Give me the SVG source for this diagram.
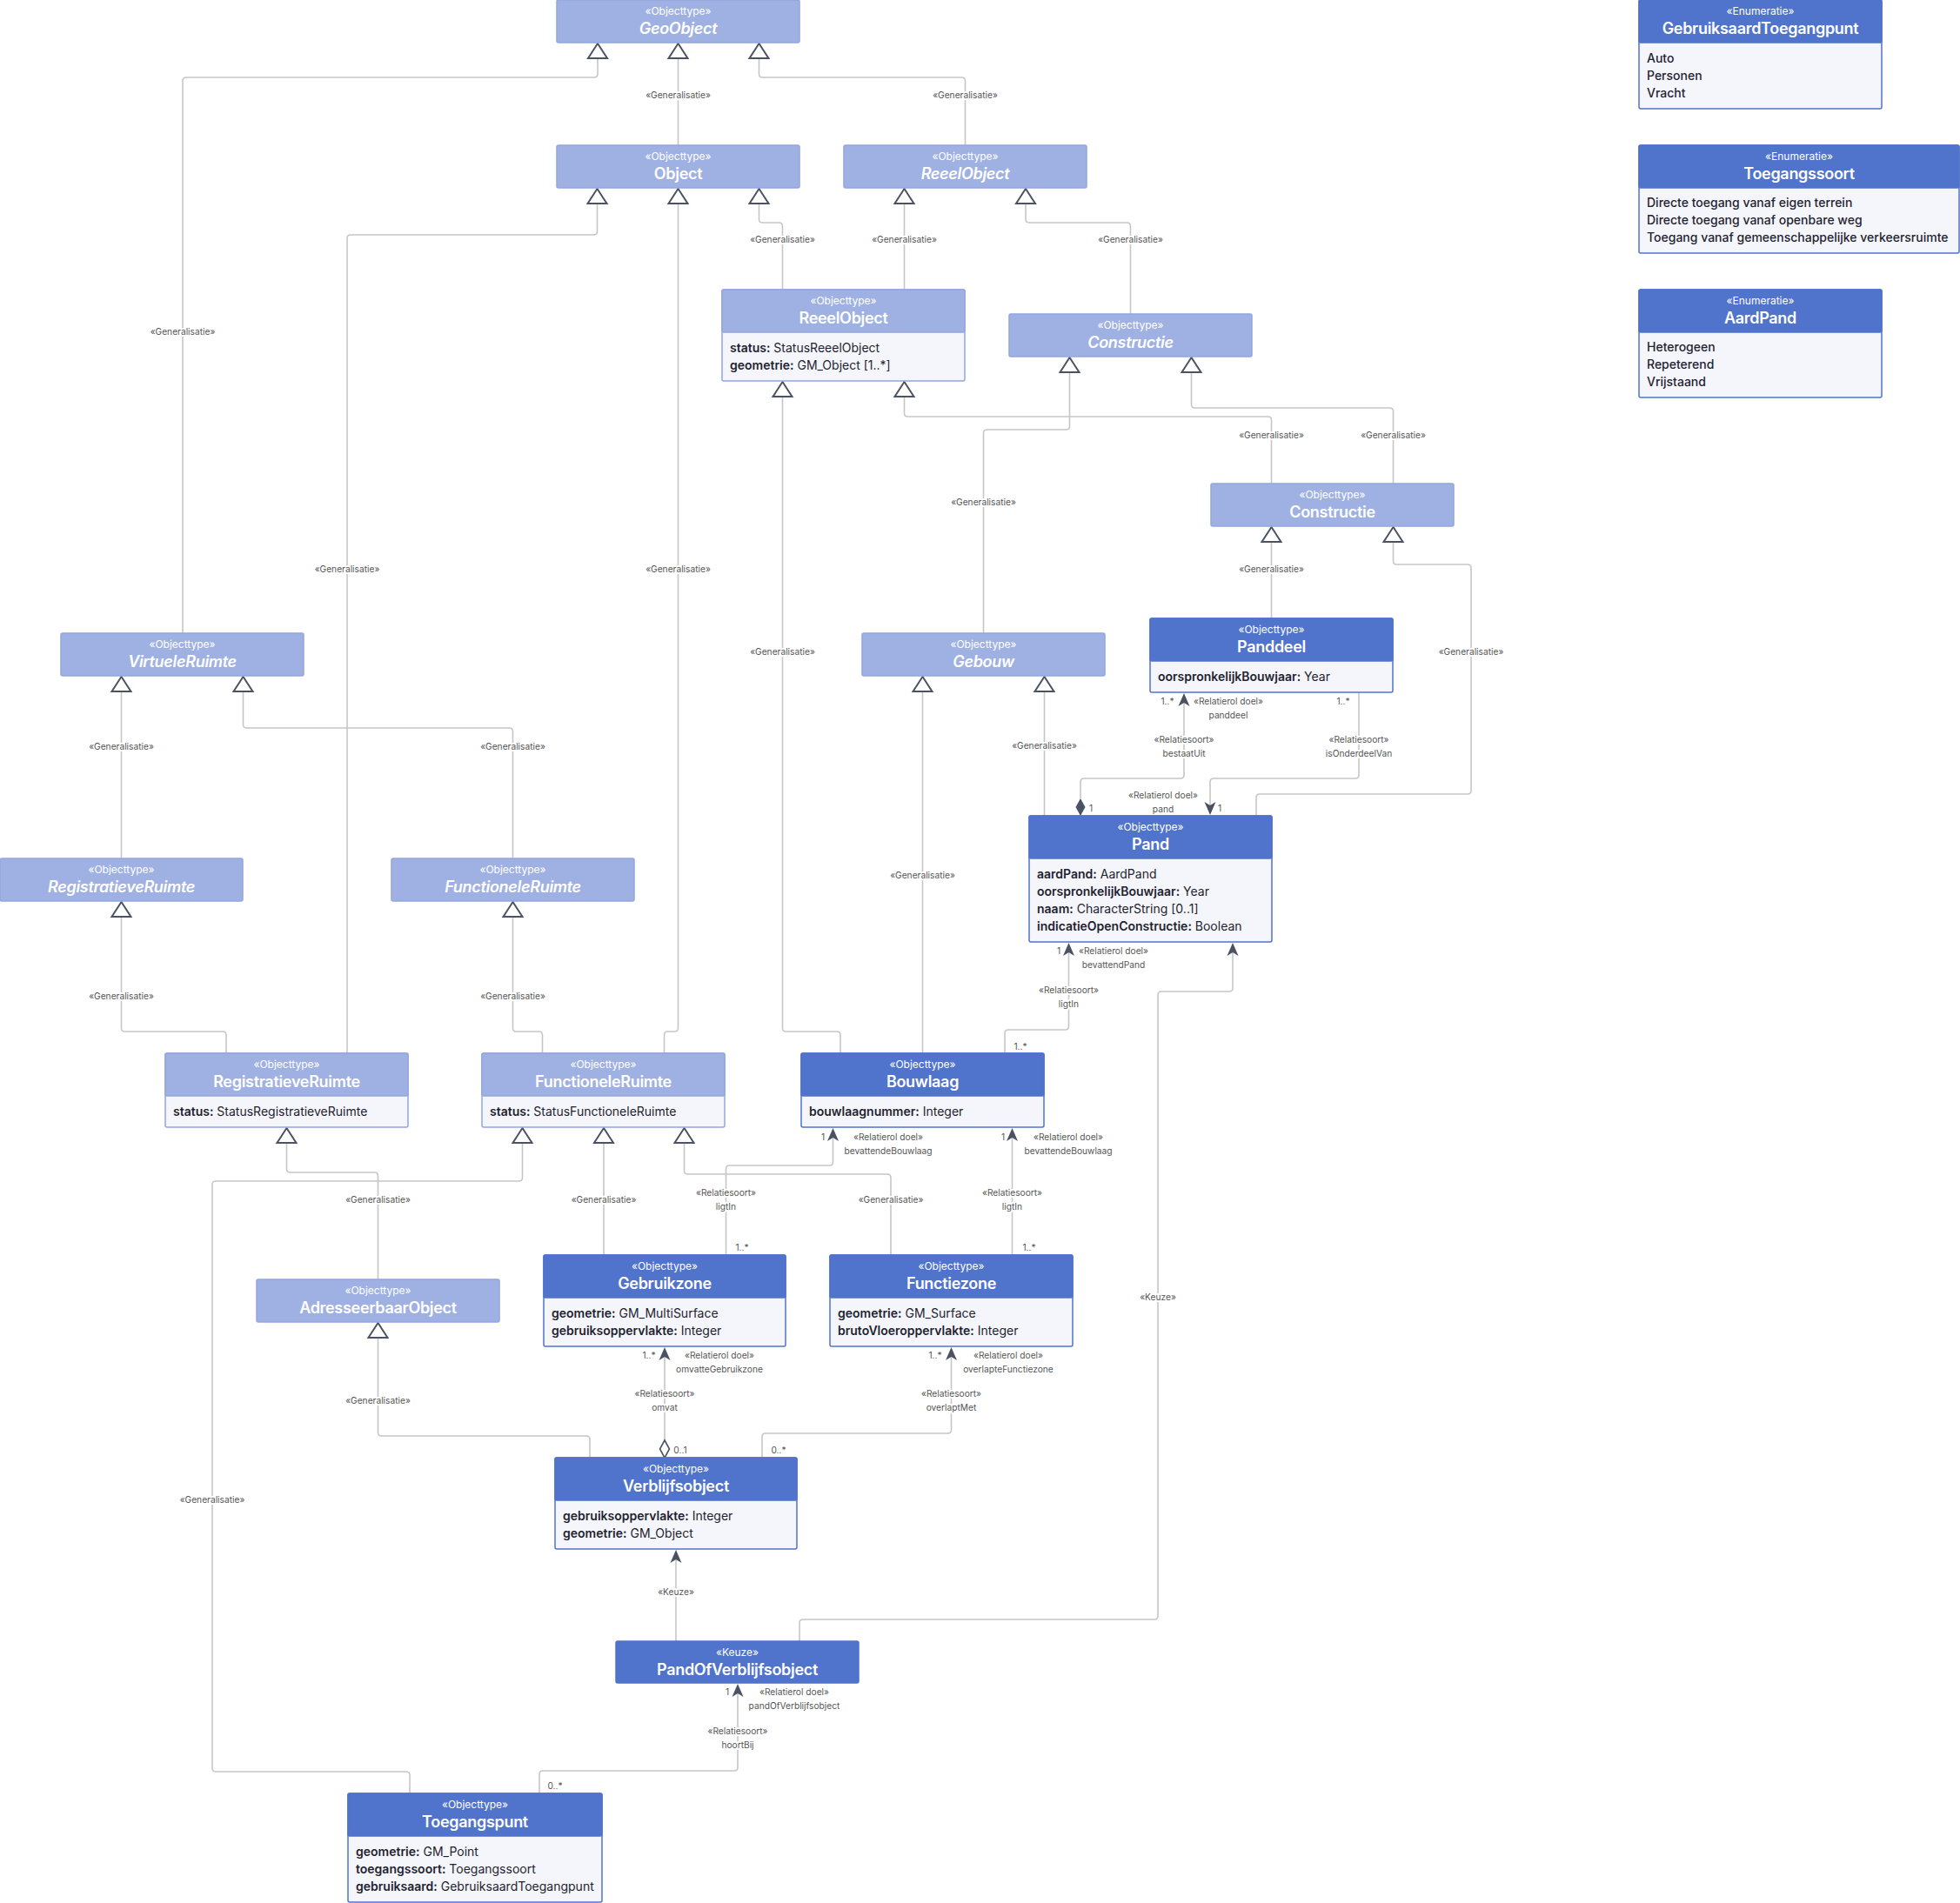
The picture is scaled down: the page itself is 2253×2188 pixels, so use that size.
<svg xmlns="http://www.w3.org/2000/svg" width="2253" height="2188" viewBox="0 0 2253 2188">
<style>
.bg{fill:#fff}
.hl{fill:#9fb1e3;stroke:#93a6de;stroke-width:1.5}
.hd{fill:#5073cc;stroke:#5073cc;stroke-width:1.5}
.bl{fill:#f5f6fb;stroke:#93a6de;stroke-width:1.5}
.bd{fill:#f5f6fb;stroke:#5073cc;stroke-width:1.5}
.st{font-family:Inter,"Liberation Sans",sans-serif;font-size:12px;fill:#fff;text-anchor:middle}
.tt{font-family:Inter,"Liberation Sans",sans-serif;font-size:18px;font-weight:600;letter-spacing:-0.3px;fill:#fff;text-anchor:middle}
.it{font-style:italic}
.at{font-family:Inter,"Liberation Sans",sans-serif;font-size:14px;fill:#1f2330}
.at .n{font-weight:600}
.ev{font-family:Inter,"Liberation Sans",sans-serif;font-size:14px;font-weight:500;fill:#1f2330}
.conn{fill:none;stroke:#c6c6c6;stroke-width:1.6}
.tri{fill:#fff;stroke:#4b5262;stroke-width:2}
.arr{fill:#4b5262}
.dmo{fill:#fff;stroke:#4b5262;stroke-width:1.6}
.lb{font-family:Inter,"Liberation Sans",sans-serif;font-size:10.2px;fill:#555;text-anchor:middle;stroke:#fff;stroke-width:4;paint-order:stroke;stroke-linejoin:round}
.ml{font-family:Inter,"Liberation Sans",sans-serif;font-size:10.2px;fill:#555;text-anchor:middle}
</style>
<defs>
<path id="tri" d="M0,0 L11,17 L-11,17 Z"/>
<path id="arU" d="M0,0 L6.5,15 L0,11 L-6.5,15 Z"/>
<path id="arD" d="M0,0 L6.5,-15 L0,-11 L-6.5,-15 Z"/>
<path id="dia" d="M0,0 L5.5,10 L0,20 L-5.5,10 Z"/>
</defs>
<rect class="bg" x="0" y="0" width="2253" height="2188"/>

<g id="connectors">
<path class="conn" d="M210,728 L210,93 Q210,89 214,89 L683,89 Q687,89 687,85 L687,67"/>
<path class="conn" d="M779.5,167 L779.5,67"/>
<path class="conn" d="M1109.5,167 L1109.5,93 Q1109.5,89 1105.5,89 L876.5,89 Q872.5,89 872.5,85 L872.5,67"/>
<path class="conn" d="M399,1211 L399,274 Q399,270 403,270 L682.5,270 Q686.5,270 686.5,266 L686.5,234"/>
<path class="conn" d="M763.5,1211 L763.5,1190 Q763.5,1186 767.5,1186 L775.5,1186 Q779.5,1186 779.5,1182 L779.5,234"/>
<path class="conn" d="M899.5,333 L899.5,260 Q899.5,256 895.5,256 L876.5,256 Q872.5,256 872.5,252 L872.5,234"/>
<path class="conn" d="M1039.5,333 L1039.5,234"/>
<path class="conn" d="M1299.5,361 L1299.5,260 Q1299.5,256 1295.5,256 L1183,256 Q1179,256 1179,252 L1179,234"/>
<path class="conn" d="M966,1211 L966,1190 Q966,1186 962,1186 L903.5,1186 Q899.5,1186 899.5,1182 L899.5,456"/>
<path class="conn" d="M1461.5,556 L1461.5,483 Q1461.5,479 1457.5,479 L1043.5,479 Q1039.5,479 1039.5,475 L1039.5,456"/>
<path class="conn" d="M1130.5,728 L1130.5,498 Q1130.5,494 1134.5,494 L1225.5,494 Q1229.5,494 1229.5,490 L1229.5,428"/>
<path class="conn" d="M1601.5,556 L1601.5,473 Q1601.5,469 1597.5,469 L1373.5,469 Q1369.5,469 1369.5,465 L1369.5,428"/>
<path class="conn" d="M1461.5,711 L1461.5,623"/>
<path class="conn" d="M1444,938 L1444,917 Q1444,913 1448,913 L1687,913 Q1691,913 1691,909 L1691,653 Q1691,649 1687,649 L1605.5,649 Q1601.5,649 1601.5,645 L1601.5,623"/>
<path class="conn" d="M1200.5,938 L1200.5,795"/>
<path class="conn" d="M1060.5,1211 L1060.5,795"/>
<path class="conn" d="M139.5,987 L139.5,795"/>
<path class="conn" d="M589.5,987 L589.5,841 Q589.5,837 585.5,837 L283.5,837 Q279.5,837 279.5,833 L279.5,795"/>
<path class="conn" d="M260,1211 L260,1190 Q260,1186 256,1186 L143.5,1186 Q139.5,1186 139.5,1182 L139.5,1054"/>
<path class="conn" d="M623.5,1211 L623.5,1190 Q623.5,1186 619.5,1186 L593.5,1186 Q589.5,1186 589.5,1182 L589.5,1054"/>
<path class="conn" d="M434.5,1471 L434.5,1352 Q434.5,1348 430.5,1348 L333.5,1348 Q329.5,1348 329.5,1344 L329.5,1314"/>
<path class="conn" d="M471,2062 L471,2041 Q471,2037 467,2037 L248,2037 Q244,2037 244,2033 L244,1362 Q244,1358 248,1358 L596.5,1358 Q600.5,1358 600.5,1354 L600.5,1314"/>
<path class="conn" d="M694,1443 L694,1314"/>
<path class="conn" d="M1024,1443 L1024,1354 Q1024,1350 1020,1350 L790.5,1350 Q786.5,1350 786.5,1346 L786.5,1314"/>
<path class="conn" d="M678,1676 L678,1655 Q678,1651 674,1651 L438.5,1651 Q434.5,1651 434.5,1647 L434.5,1538"/>
<path class="conn" d="M1242,918 L1242,899 Q1242,895 1246,895 L1357,895 Q1361,895 1361,891 L1361,808"/>
<path class="conn" d="M1562,796 L1562,891 Q1562,895 1558,895 L1395,895 Q1391,895 1391,899 L1391,926"/>
<path class="conn" d="M1155,1211 L1155,1188 Q1155,1184 1159,1184 L1224.5,1184 Q1228.5,1184 1228.5,1180 L1228.5,1095"/>
<path class="conn" d="M834.5,1443 L834.5,1344 Q834.5,1340 838.5,1340 L953.5,1340 Q957.5,1340 957.5,1336 L957.5,1308"/>
<path class="conn" d="M1163.5,1443 L1163.5,1308"/>
<path class="conn" d="M764,1656 L764,1560"/>
<path class="conn" d="M876,1676 L876,1652 Q876,1648 880,1648 L1089.5,1648 Q1093.5,1648 1093.5,1644 L1093.5,1560"/>
<path class="conn" d="M777,1887 L777,1793"/>
<path class="conn" d="M919,1887 L919,1866 Q919,1862 923,1862 L1327,1862 Q1331,1862 1331,1858 L1331,1144 Q1331,1140 1335,1140 L1413,1140 Q1417,1140 1417,1136 L1417,1095"/>
<path class="conn" d="M620,2062 L620,2040 Q620,2036 624,2036 L844,2036 Q848,2036 848,2032 L848,1947"/>

<use href="#tri" class="tri" x="687" y="50"/>
<use href="#tri" class="tri" x="779.5" y="50"/>
<use href="#tri" class="tri" x="872.5" y="50"/>
<use href="#tri" class="tri" x="686.5" y="217"/>
<use href="#tri" class="tri" x="779.5" y="217"/>
<use href="#tri" class="tri" x="872.5" y="217"/>
<use href="#tri" class="tri" x="1039.5" y="217"/>
<use href="#tri" class="tri" x="1179" y="217"/>
<use href="#tri" class="tri" x="899.5" y="439"/>
<use href="#tri" class="tri" x="1039.5" y="439"/>
<use href="#tri" class="tri" x="1229.5" y="411"/>
<use href="#tri" class="tri" x="1369.5" y="411"/>
<use href="#tri" class="tri" x="1461.5" y="606"/>
<use href="#tri" class="tri" x="1601.5" y="606"/>
<use href="#tri" class="tri" x="1060.5" y="778"/>
<use href="#tri" class="tri" x="1200.5" y="778"/>
<use href="#tri" class="tri" x="139.5" y="778"/>
<use href="#tri" class="tri" x="279.5" y="778"/>
<use href="#tri" class="tri" x="139.5" y="1037"/>
<use href="#tri" class="tri" x="589.5" y="1037"/>
<use href="#tri" class="tri" x="329.5" y="1297"/>
<use href="#tri" class="tri" x="600.5" y="1297"/>
<use href="#tri" class="tri" x="694" y="1297"/>
<use href="#tri" class="tri" x="786.5" y="1297"/>
<use href="#tri" class="tri" x="434.5" y="1521"/>

<use href="#arU" class="arr" x="1361" y="797"/>
<use href="#arD" class="arr" x="1391" y="937"/>
<use href="#arU" class="arr" x="1228.5" y="1084"/>
<use href="#arU" class="arr" x="1417" y="1084"/>
<use href="#arU" class="arr" x="957.5" y="1297"/>
<use href="#arU" class="arr" x="1163.5" y="1297"/>
<use href="#arU" class="arr" x="764" y="1549"/>
<use href="#arU" class="arr" x="1093.5" y="1549"/>
<use href="#arU" class="arr" x="777" y="1782"/>
<use href="#arU" class="arr" x="848" y="1936"/>
<use href="#dia" class="arr" x="1242" y="918"/>
<use href="#dia" class="dmo" x="764" y="1656"/>

<text class="lb" x="210" y="385">«Generalisatie»</text>
<text class="lb" x="779.5" y="113">«Generalisatie»</text>
<text class="lb" x="1109.5" y="113">«Generalisatie»</text>
<text class="lb" x="399" y="658">«Generalisatie»</text>
<text class="lb" x="779.5" y="658">«Generalisatie»</text>
<text class="lb" x="899.5" y="279">«Generalisatie»</text>
<text class="lb" x="1039.5" y="279">«Generalisatie»</text>
<text class="lb" x="1299.5" y="279">«Generalisatie»</text>
<text class="lb" x="899.5" y="753">«Generalisatie»</text>
<text class="lb" x="1461.5" y="504">«Generalisatie»</text>
<text class="lb" x="1130.5" y="581">«Generalisatie»</text>
<text class="lb" x="1601.5" y="504">«Generalisatie»</text>
<text class="lb" x="1461.5" y="658">«Generalisatie»</text>
<text class="lb" x="1691" y="753">«Generalisatie»</text>
<text class="lb" x="1200.5" y="861">«Generalisatie»</text>
<text class="lb" x="1060.5" y="1010">«Generalisatie»</text>
<text class="lb" x="139.5" y="862">«Generalisatie»</text>
<text class="lb" x="589.5" y="862">«Generalisatie»</text>
<text class="lb" x="139.5" y="1149">«Generalisatie»</text>
<text class="lb" x="589.5" y="1149">«Generalisatie»</text>
<text class="lb" x="434.5" y="1383">«Generalisatie»</text>
<text class="lb" x="244" y="1728">«Generalisatie»</text>
<text class="lb" x="694" y="1383">«Generalisatie»</text>
<text class="lb" x="1024" y="1383">«Generalisatie»</text>
<text class="lb" x="434.5" y="1614">«Generalisatie»</text>

<text class="ml" x="1342" y="810">1..*</text>
<text class="lb" x="1412" y="810">«Relatierol doel»</text>
<text class="lb" x="1412" y="826">panddeel</text>
<text class="lb" x="1361" y="854">«Relatiesoort»</text>
<text class="lb" x="1361" y="870">bestaatUit</text>
<text class="ml" x="1254" y="933">1</text>
<text class="ml" x="1544" y="810">1..*</text>
<text class="lb" x="1562" y="854">«Relatiesoort»</text>
<text class="lb" x="1562" y="870">isOnderdeelVan</text>
<text class="lb" x="1337" y="918">«Relatierol doel»</text>
<text class="lb" x="1337" y="934">pand</text>
<text class="ml" x="1402" y="933">1</text>

<text class="ml" x="1217" y="1097">1</text>
<text class="lb" x="1280" y="1097">«Relatierol doel»</text>
<text class="lb" x="1280" y="1113">bevattendPand</text>
<text class="lb" x="1228.5" y="1142">«Relatiesoort»</text>
<text class="lb" x="1228.5" y="1158">ligtIn</text>
<text class="ml" x="1173" y="1207">1..*</text>

<text class="ml" x="946" y="1311">1</text>
<text class="lb" x="1021" y="1311">«Relatierol doel»</text>
<text class="lb" x="1021" y="1327">bevattendeBouwlaag</text>
<text class="lb" x="834.5" y="1375">«Relatiesoort»</text>
<text class="lb" x="834.5" y="1391">ligtIn</text>
<text class="ml" x="853" y="1438">1..*</text>

<text class="ml" x="1153" y="1311">1</text>
<text class="lb" x="1228" y="1311">«Relatierol doel»</text>
<text class="lb" x="1228" y="1327">bevattendeBouwlaag</text>
<text class="lb" x="1163.5" y="1375">«Relatiesoort»</text>
<text class="lb" x="1163.5" y="1391">ligtIn</text>
<text class="ml" x="1183" y="1438">1..*</text>

<text class="ml" x="746" y="1562">1..*</text>
<text class="lb" x="827" y="1562">«Relatierol doel»</text>
<text class="lb" x="827" y="1578">omvatteGebruikzone</text>
<text class="lb" x="764" y="1606">«Relatiesoort»</text>
<text class="lb" x="764" y="1622">omvat</text>
<text class="ml" x="782" y="1671">0..1</text>

<text class="ml" x="1075" y="1562">1..*</text>
<text class="lb" x="1159" y="1562">«Relatierol doel»</text>
<text class="lb" x="1159" y="1578">overlapteFunctiezone</text>
<text class="lb" x="1093.5" y="1606">«Relatiesoort»</text>
<text class="lb" x="1093.5" y="1622">overlaptMet</text>
<text class="ml" x="895" y="1671">0..*</text>

<text class="lb" x="777" y="1834">«Keuze»</text>
<text class="lb" x="1331" y="1495">«Keuze»</text>

<text class="ml" x="836" y="1949">1</text>
<text class="lb" x="913" y="1949">«Relatierol doel»</text>
<text class="lb" x="913" y="1965">pandOfVerblijfsobject</text>
<text class="lb" x="848" y="1994">«Relatiesoort»</text>
<text class="lb" x="848" y="2010">hoortBij</text>
<text class="ml" x="638" y="2057">0..*</text>
</g>

<g id="GeoObject">
<rect class="hl" x="640" y="0" width="279" height="49" rx="2"/>
<text class="st" x="779.5" y="17">«Objecttype»</text>
<text class="tt it" x="779.5" y="39">GeoObject</text>
</g>
<g id="Object">
<rect class="hl" x="640" y="167" width="279" height="49" rx="2"/>
<text class="st" x="779.5" y="184">«Objecttype»</text>
<text class="tt" x="779.5" y="206">Object</text>
</g>
<g id="ReeelObjectAbstract">
<rect class="hl" x="970" y="167" width="279" height="49" rx="2"/>
<text class="st" x="1109.5" y="184">«Objecttype»</text>
<text class="tt it" x="1109.5" y="206">ReeelObject</text>
</g>
<g id="ReeelObject">
<rect class="bl" x="830" y="333" width="279" height="105" rx="2"/>
<rect class="hl" x="830" y="333" width="279" height="49" rx="2"/>
<text class="st" x="969.5" y="350">«Objecttype»</text>
<text class="tt" x="969.5" y="372">ReeelObject</text>
<text class="at" x="839" y="405"><tspan class="n">status:</tspan> StatusReeelObject</text>
<text class="at" x="839" y="425"><tspan class="n">geometrie:</tspan> GM_Object [1..*]</text>
</g>
<g id="ConstructieAbstract">
<rect class="hl" x="1160" y="361" width="279" height="49" rx="2"/>
<text class="st" x="1299.5" y="378">«Objecttype»</text>
<text class="tt it" x="1299.5" y="400">Constructie</text>
</g>
<g id="Constructie">
<rect class="hl" x="1392" y="556" width="279" height="49" rx="2"/>
<text class="st" x="1531.5" y="573">«Objecttype»</text>
<text class="tt" x="1531.5" y="595">Constructie</text>
</g>
<g id="Panddeel">
<rect class="bd" x="1322" y="711" width="279" height="85" rx="2"/>
<rect class="hd" x="1322" y="711" width="279" height="49" rx="2"/>
<text class="st" x="1461.5" y="728">«Objecttype»</text>
<text class="tt" x="1461.5" y="750">Panddeel</text>
<text class="at" x="1331" y="783"><tspan class="n">oorspronkelijkBouwjaar:</tspan> Year</text>
</g>
<g id="Gebouw">
<rect class="hl" x="991" y="728" width="279" height="49" rx="2"/>
<text class="st" x="1130.5" y="745">«Objecttype»</text>
<text class="tt it" x="1130.5" y="767">Gebouw</text>
</g>
<g id="VirtueleRuimte">
<rect class="hl" x="70" y="728" width="279" height="49" rx="2"/>
<text class="st" x="209.5" y="745">«Objecttype»</text>
<text class="tt it" x="209.5" y="767">VirtueleRuimte</text>
</g>
<g id="RegistratieveRuimteAbstract">
<rect class="hl" x="0" y="987" width="279" height="49" rx="2"/>
<text class="st" x="139.5" y="1004">«Objecttype»</text>
<text class="tt it" x="139.5" y="1026">RegistratieveRuimte</text>
</g>
<g id="FunctioneleRuimteAbstract">
<rect class="hl" x="450" y="987" width="279" height="49" rx="2"/>
<text class="st" x="589.5" y="1004">«Objecttype»</text>
<text class="tt it" x="589.5" y="1026">FunctioneleRuimte</text>
</g>
<g id="Pand">
<rect class="bd" x="1183" y="938" width="279" height="145" rx="2"/>
<rect class="hd" x="1183" y="938" width="279" height="49" rx="2"/>
<text class="st" x="1322.5" y="955">«Objecttype»</text>
<text class="tt" x="1322.5" y="977">Pand</text>
<text class="at" x="1192" y="1010"><tspan class="n">aardPand:</tspan> AardPand</text>
<text class="at" x="1192" y="1030"><tspan class="n">oorspronkelijkBouwjaar:</tspan> Year</text>
<text class="at" x="1192" y="1050"><tspan class="n">naam:</tspan> CharacterString [0..1]</text>
<text class="at" x="1192" y="1070"><tspan class="n">indicatieOpenConstructie:</tspan> Boolean</text>
</g>
<g id="RegistratieveRuimte">
<rect class="bl" x="190" y="1211" width="279" height="85" rx="2"/>
<rect class="hl" x="190" y="1211" width="279" height="49" rx="2"/>
<text class="st" x="329.5" y="1228">«Objecttype»</text>
<text class="tt" x="329.5" y="1250">RegistratieveRuimte</text>
<text class="at" x="199" y="1283"><tspan class="n">status:</tspan> StatusRegistratieveRuimte</text>
</g>
<g id="FunctioneleRuimte">
<rect class="bl" x="554" y="1211" width="279" height="85" rx="2"/>
<rect class="hl" x="554" y="1211" width="279" height="49" rx="2"/>
<text class="st" x="693.5" y="1228">«Objecttype»</text>
<text class="tt" x="693.5" y="1250">FunctioneleRuimte</text>
<text class="at" x="563" y="1283"><tspan class="n">status:</tspan> StatusFunctioneleRuimte</text>
</g>
<g id="Bouwlaag">
<rect class="bd" x="921" y="1211" width="279" height="85" rx="2"/>
<rect class="hd" x="921" y="1211" width="279" height="49" rx="2"/>
<text class="st" x="1060.5" y="1228">«Objecttype»</text>
<text class="tt" x="1060.5" y="1250">Bouwlaag</text>
<text class="at" x="930" y="1283"><tspan class="n">bouwlaagnummer:</tspan> Integer</text>
</g>
<g id="Gebruikzone">
<rect class="bd" x="625" y="1443" width="278" height="105" rx="2"/>
<rect class="hd" x="625" y="1443" width="278" height="49" rx="2"/>
<text class="st" x="764" y="1460">«Objecttype»</text>
<text class="tt" x="764" y="1482">Gebruikzone</text>
<text class="at" x="634" y="1515"><tspan class="n">geometrie:</tspan> GM_MultiSurface</text>
<text class="at" x="634" y="1535"><tspan class="n">gebruiksoppervlakte:</tspan> Integer</text>
</g>
<g id="Functiezone">
<rect class="bd" x="954" y="1443" width="279" height="105" rx="2"/>
<rect class="hd" x="954" y="1443" width="279" height="49" rx="2"/>
<text class="st" x="1093.5" y="1460">«Objecttype»</text>
<text class="tt" x="1093.5" y="1482">Functiezone</text>
<text class="at" x="963" y="1515"><tspan class="n">geometrie:</tspan> GM_Surface</text>
<text class="at" x="963" y="1535"><tspan class="n">brutoVloeroppervlakte:</tspan> Integer</text>
</g>
<g id="AdresseerbaarObject">
<rect class="hl" x="295" y="1471" width="279" height="49" rx="2"/>
<text class="st" x="434.5" y="1488">«Objecttype»</text>
<text class="tt" x="434.5" y="1510">AdresseerbaarObject</text>
</g>
<g id="Verblijfsobject">
<rect class="bd" x="638" y="1676" width="278" height="105" rx="2"/>
<rect class="hd" x="638" y="1676" width="278" height="49" rx="2"/>
<text class="st" x="777" y="1693">«Objecttype»</text>
<text class="tt" x="777" y="1715">Verblijfsobject</text>
<text class="at" x="647" y="1748"><tspan class="n">gebruiksoppervlakte:</tspan> Integer</text>
<text class="at" x="647" y="1768"><tspan class="n">geometrie:</tspan> GM_Object</text>
</g>
<g id="PandOfVerblijfsobject">
<rect class="hd" x="708" y="1887" width="279" height="48" rx="2"/>
<text class="st" x="847.5" y="1904">«Keuze»</text>
<text class="tt" x="847.5" y="1926">PandOfVerblijfsobject</text>
</g>
<g id="Toegangspunt">
<rect class="bd" x="400" y="2062" width="292" height="125" rx="2"/>
<rect class="hd" x="400" y="2062" width="292" height="49" rx="2"/>
<text class="st" x="546" y="2079">«Objecttype»</text>
<text class="tt" x="546" y="2101">Toegangspunt</text>
<text class="at" x="409" y="2134"><tspan class="n">geometrie:</tspan> GM_Point</text>
<text class="at" x="409" y="2154"><tspan class="n">toegangssoort:</tspan> Toegangssoort</text>
<text class="at" x="409" y="2174"><tspan class="n">gebruiksaard:</tspan> GebruiksaardToegangpunt</text>
</g>
<g id="GebruiksaardToegangpunt">
<rect class="bd" x="1884" y="0" width="279" height="125" rx="2"/>
<rect class="hd" x="1884" y="0" width="279" height="49" rx="2"/>
<text class="st" x="2023.5" y="17">«Enumeratie»</text>
<text class="tt" x="2023.5" y="39">GebruiksaardToegangpunt</text>
<text class="ev" x="1893" y="72">Auto</text>
<text class="ev" x="1893" y="92">Personen</text>
<text class="ev" x="1893" y="112">Vracht</text>
</g>
<g id="Toegangssoort">
<rect class="bd" x="1884" y="167" width="368" height="124" rx="2"/>
<rect class="hd" x="1884" y="167" width="368" height="49" rx="2"/>
<text class="st" x="2068" y="184">«Enumeratie»</text>
<text class="tt" x="2068" y="206">Toegangssoort</text>
<text class="ev" x="1893" y="238">Directe toegang vanaf eigen terrein</text>
<text class="ev" x="1893" y="258">Directe toegang vanaf openbare weg</text>
<text class="ev" x="1893" y="278">Toegang vanaf gemeenschappelijke verkeersruimte</text>
</g>
<g id="AardPand">
<rect class="bd" x="1884" y="333" width="279" height="124" rx="2"/>
<rect class="hd" x="1884" y="333" width="279" height="49" rx="2"/>
<text class="st" x="2023.5" y="350">«Enumeratie»</text>
<text class="tt" x="2023.5" y="372">AardPand</text>
<text class="ev" x="1893" y="404">Heterogeen</text>
<text class="ev" x="1893" y="424">Repeterend</text>
<text class="ev" x="1893" y="444">Vrijstaand</text>
</g>
</svg>
